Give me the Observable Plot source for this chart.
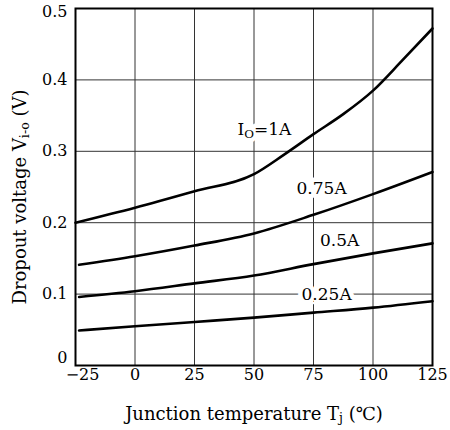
<!DOCTYPE html>
<html>
<head>
<meta charset="utf-8">
<script src="https://cdn.jsdelivr.net/npm/d3@7"></script>
<script src="https://cdn.jsdelivr.net/npm/@observablehq/plot@0.6"></script>
<style>
  html, body { margin: 0; padding: 0; background: #fff; }
  #chart svg { display: block; }
</style>
</head>
<body>
<div id="chart"></div>
<script>
// ---- data ----
const temps1A   = [-25, 0, 25, 50, 62.5, 75, 87.5, 100, 112.5, 125];
const volts1A   = [0.200, 0.221, 0.244, 0.268, 0.295, 0.324, 0.352, 0.385, 0.428, 0.472];
const tempsLow  = [-23.5, 0, 25, 50, 75, 100, 125];
const volts075A = [0.141, 0.153, 0.168, 0.185, 0.211, 0.240, 0.271];
const volts05A  = [0.096, 0.104, 0.115, 0.126, 0.142, 0.157, 0.171];
const volts025A = [0.049, 0.055, 0.061, 0.067, 0.074, 0.081, 0.090];

const seriesNames = ["1A", "0.75A", "0.5A", "0.25A"];
const labelTexts  = ["Io=1A", "0.75A", "0.5A", "0.25A"];
const labelTemps  = [54.4, 78.4, 86, 80.5];
const labelVolts  = [0.330, 0.2476, 0.175, 0.0995];

const xTicks = [-25, 0, 25, 50, 75, 100, 125];
const yTicks = [0, 0.1, 0.2, 0.3, 0.4, 0.5];
const xTitle = "Junction temperature Tj (℃)";
const yTitle = "Dropout voltage Vi-o (V)";

// ---- build table ----
const rows = [];
const addSeries = (name, ts, vs) => ts.forEach((t, i) => rows.push({series: name, t, v: vs[i]}));
addSeries(seriesNames[0], temps1A, volts1A);
addSeries(seriesNames[1], tempsLow, volts075A);
addSeries(seriesNames[2], tempsLow, volts05A);
addSeries(seriesNames[3], tempsLow, volts025A);
const labels = labelTexts.map((s, i) => ({s, t: labelTemps[i], v: labelVolts[i]}));

const FONT = "'DejaVu Serif', 'Liberation Serif', serif";
const xFmt = d => d < 0 ? "\u2212" + (-d) : String(d);
const yFmt = d => d === 0 ? "0" : d3.format(".1f")(d);

const chart = Plot.plot({
  width: 450,
  height: 430,
  marginLeft: 75,
  marginRight: 18,
  marginTop: 8,
  marginBottom: 65,
  style: {fontFamily: FONT, fontSize: "16px", color: "black", background: "white"},
  x: {domain: [-25, 125]},
  y: {domain: [0, 0.5]},
  marks: [
    Plot.gridX(xTicks, {stroke: "#333", strokeOpacity: 1, strokeWidth: 1}),
    Plot.gridY(yTicks, {stroke: "#333", strokeOpacity: 1, strokeWidth: 1}),
    Plot.axisX(xTicks.slice(1), {tickSize: 0, tickPadding: 3, label: null, fontSize: 16, tickFormat: xFmt}),
    Plot.axisX(xTicks.slice(0, 1), {tickSize: 0, tickPadding: 3, label: null, fontSize: 16, tickFormat: xFmt, dx: 7}),
    Plot.axisY(yTicks.slice(1, -1), {tickSize: 0, tickPadding: 8, label: null, fontSize: 16, tickFormat: yFmt}),
    Plot.axisY(yTicks.slice(0, 1), {tickSize: 0, tickPadding: 8, label: null, fontSize: 16, tickFormat: yFmt, dy: -8}),
    Plot.axisY(yTicks.slice(-1), {tickSize: 0, tickPadding: 8, label: null, fontSize: 16, tickFormat: yFmt, dy: 3}),
    Plot.line(rows, {x: "t", y: "v", z: "series", stroke: "black", strokeWidth: 2.6, curve: "monotone-x"}),
    // white backing behind the curve labels, then the labels
    Plot.text(labels, {x: "t", y: "v", text: "s", fontSize: 17, fill: "white",
      stroke: "white", strokeWidth: 9}),
    Plot.text(labels, {x: "t", y: "v", text: "s", fontSize: 17, fill: "black"}),
    Plot.text([xTitle], {frameAnchor: "bottom", dy: 54, fontSize: 18, fill: "black"}),
    Plot.text([yTitle], {frameAnchor: "left", textAnchor: "middle", dx: -55, dy: 10, rotate: -90, fontSize: 18, fill: "black"}),
    Plot.frame({stroke: "black", strokeWidth: 2})
  ]
});

// subscripts as real text
const SVGNS = "http://www.w3.org/2000/svg";
function subscriptify(textEl, before, sub, after) {
  textEl.textContent = "";
  textEl.appendChild(document.createTextNode(before));
  const s = document.createElementNS(SVGNS, "tspan");
  s.setAttribute("font-size", "0.7em");
  s.setAttribute("dy", "0.22em");
  s.textContent = sub;
  textEl.appendChild(s);
  const a = document.createElementNS(SVGNS, "tspan");
  a.setAttribute("dy", "-0.154em");
  a.textContent = after;
  textEl.appendChild(a);
}
chart.querySelectorAll("text").forEach(el => {
  const c = el.textContent;
  if (c === yTitle) subscriptify(el, "Dropout voltage V", "i-o", " (V)");
  else if (c === xTitle) subscriptify(el, "Junction temperature T", "j", " (℃)");
  else if (c === labelTexts[0]) subscriptify(el, "I", "O", "=1A");
});

document.getElementById("chart").appendChild(chart);
</script>
</body>
</html>
